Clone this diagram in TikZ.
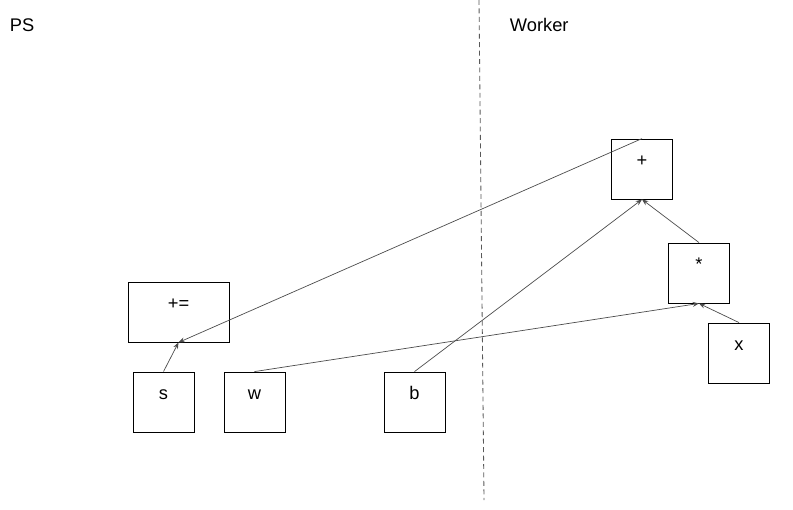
\documentclass[tikz,border=0pt]{standalone}
\usepackage{fontspec}
\setmainfont{Liberation Sans}
\usetikzlibrary{arrows.meta}

\tikzset{
  opbox/.style={draw,line width=0.6pt,minimum width=1.525cm,minimum height=1.5cm,
    inner sep=0pt,text height=9pt,text depth=12pt,font=\fontsize{13}{15}\selectfont},
  wide/.style={minimum width=2.525cm},
  link/.style={draw=black!70,line width=0.5pt,-{Stealth[length=4.5pt,width=3.5pt]}},
  side/.style={font=\fontsize{13}{15}\selectfont,anchor=west}
}

\begin{document}
\begin{tikzpicture}[x=0.025cm,y=-0.025cm]
\useasboundingbox (0,0) rectangle (793,509);

% ---- sides ----
\node[side] (ps) at (5,25) {PS};
\node[side] (worker) at (505,25) {Worker};
\coordinate (top) at (479,0);
\coordinate (bottom) at (484,500);
\draw[black!65,dash pattern=on 3.5pt off 2.5pt,line width=0.6pt] (top) -- (bottom);

% ---- PS ----
\node[opbox,wide] (assign) at (178.5,312) {+=};
\node[opbox] (s) at (163.5,402) {s};
\node[opbox] (w) at (254.5,402) {w};

% ---- Worker ----
\node[opbox] (b) at (414.5,402) {b};
\node[opbox] (add) at (642,169) {+};
\node[opbox] (mul) at (699,273) {*};
\node[opbox] (x) at (739,353) {x};

% ---- edges ----
\draw[link] (add.north) -- (assign.south);
\draw[link] (s.north) -- (assign.south);
\draw[link] (w.north) -- (mul.south);
\draw[link] (b.north) -- (add.south);
\draw[link] (mul.north) -- (add.south);
\draw[link] (x.north) -- (mul.south);

\end{tikzpicture}
\end{document}
